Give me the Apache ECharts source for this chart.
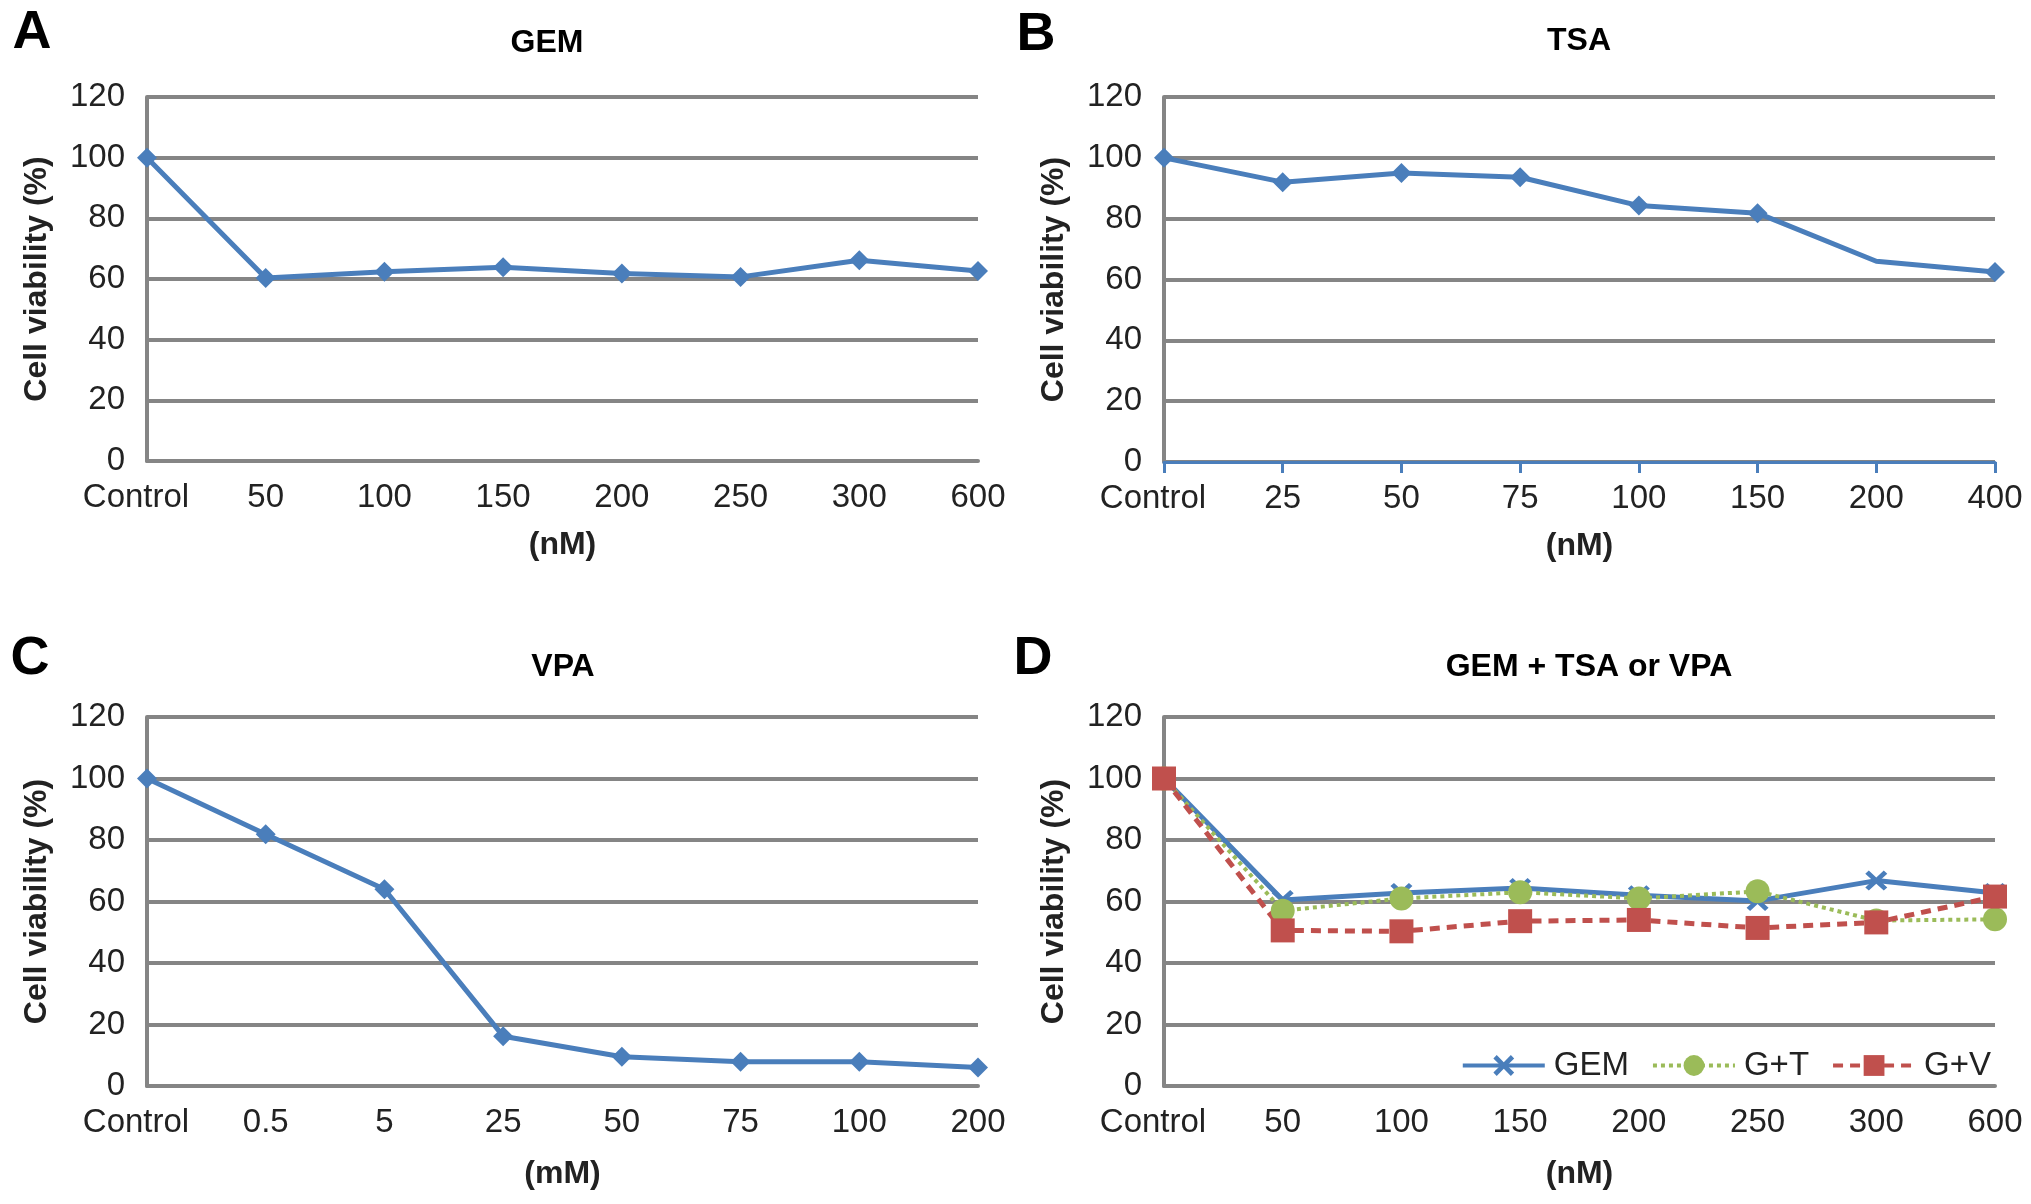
<!DOCTYPE html>
<html>
<head>
<meta charset="utf-8">
<script src="https://cdn.jsdelivr.net/npm/echarts@6/dist/echarts.min.js"></script>
<style>
  html, body { margin: 0; padding: 0; background: #fff; }
  #chart { width: 2031px; height: 1204px; }
</style>
</head>
<body>
<div id="chart"></div>
<script>
// ---- data ----
const catsA = ['Control', '50', '100', '150', '200', '250', '300', '600'];
const gemA = [100, 60.3, 62.4, 63.9, 61.8, 60.7, 66.2, 62.6];

const catsB = ['Control', '25', '50', '75', '100', '150', '200', '400'];
const tsaB = [100, 92, 95, 93.6, 84.3, 81.8, 66, 62.5];

const catsC = ['Control', '0.5', '5', '25', '50', '75', '100', '200'];
const vpaC = [100, 81.9, 64, 16.2, 9.5, 7.9, 7.9, 6];

const catsD = ['Control', '50', '100', '150', '200', '250', '300', '600'];
const gemD = [100, 60.5, 62.8, 64.4, 62, 60.2, 66.8, 62.8];
const gtD = [100, 57, 61, 63, 61, 63.3, 53.8, 54.2];
const gvD = [100, 50.6, 50.3, 53.6, 54, 51.4, 53.2, 61.6];

const yTicks = { min: 0, max: 120, interval: 20 };

// ---- styles ----
const FONT = '"Liberation Sans", Arial, Helvetica, sans-serif';
const GRID_GREY = '#858585';
const BLUE = '#4a7ebb';
const GREEN = '#9bbb59';
const RED = '#c0504d';
const TXT = '#222222';

const grids = [
  { left: 147, top: 97, width: 831, height: 364 },
  { left: 1164, top: 97, width: 831, height: 365 },
  { left: 147, top: 717, width: 831, height: 369 },
  { left: 1164, top: 717, width: 831, height: 369 }
];

function xAxisFor(idx, cats, name, gap, blueAxis) {
  return {
    type: 'category', gridIndex: idx, data: cats, boundaryGap: false,
    name: name, nameLocation: 'middle', nameGap: gap,
    nameTextStyle: { fontFamily: FONT, fontSize: 32, fontWeight: 'bold', color: TXT },
    axisLine: { show: true, lineStyle: { color: blueAxis ? BLUE : GRID_GREY, width: blueAxis ? 3 : 4 } },
    axisTick: { show: !!blueAxis, length: 11, lineStyle: { color: BLUE, width: 3 } },
    axisLabel: {
      interval: 0, margin: 20, fontFamily: FONT, fontSize: 33, color: TXT,
      formatter: (v, i) => (i === 0 ? '{c|' + v + '}' : v),
      rich: { c: { fontFamily: FONT, fontSize: 33, color: TXT, padding: [0, 22, 0, 0] } }
    },
    splitLine: { show: false }
  };
}
function yAxisFor(idx) {
  return {
    type: 'value', gridIndex: idx, min: yTicks.min, max: yTicks.max, interval: yTicks.interval,
    name: 'Cell viability (%)', nameLocation: 'middle', nameGap: 94, nameRotate: 90,
    nameTextStyle: { fontFamily: FONT, fontSize: 32, fontWeight: 'bold', color: TXT },
    axisLine: { show: true, lineStyle: { color: GRID_GREY, width: 4 } },
    axisTick: { show: false },
    axisLabel: { margin: 22, fontFamily: FONT, fontSize: 33, color: TXT },
    splitLine: { show: true, lineStyle: { color: GRID_GREY, width: 4 } }
  };
}

function txt(x, y, text, size) {
  return {
    type: 'text', x: x, y: y, silent: true,
    style: {
      text: text, fill: '#000', font: 'bold ' + size + 'px ' + FONT,
      textAlign: 'center', textVerticalAlign: 'middle', align: 'center', verticalAlign: 'middle'
    }
  };
}

const xPath = 'path://M0,1.6 L1.6,0 L5,3.4 L8.4,0 L10,1.6 L6.6,5 L10,8.4 L8.4,10 L5,6.6 L1.6,10 L0,8.4 L3.4,5 Z';

const option = {
  backgroundColor: '#ffffff',
  animation: false,
  grid: grids,
  xAxis: [
    xAxisFor(0, catsA, '(nM)', 68, false),
    xAxisFor(1, catsB, '(nM)', 68, true),
    xAxisFor(2, catsC, '(mM)', 72, false),
    xAxisFor(3, catsD, '(nM)', 72, false)
  ],
  yAxis: [yAxisFor(0), yAxisFor(1), yAxisFor(2), yAxisFor(3)],
  legend: {
    data: ['GEM', 'G+T', 'G+V'],
    right: 35, top: 1044,
    itemWidth: 82, itemHeight: 26, itemGap: 22,
    lineStyle: { width: 4 },
    textStyle: { fontFamily: FONT, fontSize: 33, color: TXT, padding: [0, 0, 0, 4] }
  },
  graphic: [
    txt(32, 33, 'A', 54),
    txt(1036, 35, 'B', 54),
    txt(30, 659, 'C', 54),
    txt(1033, 659, 'D', 54),
    txt(547, 43, 'GEM', 32),
    txt(1579, 41, 'TSA', 32),
    txt(563, 667, 'VPA', 32),
    txt(1589, 667, 'GEM + TSA or VPA', 32)
  ],
  series: [
    {
      name: 'GEM-A', type: 'line', xAxisIndex: 0, yAxisIndex: 0, data: gemA,
      symbol: 'diamond', symbolSize: [20, 20],
      lineStyle: { color: BLUE, width: 5 }, itemStyle: { color: BLUE }
    },
    {
      name: 'TSA-B', type: 'line', xAxisIndex: 1, yAxisIndex: 1,
      data: tsaB.map((v, i) => (catsB[i] === '200' ? { value: v, symbol: 'none' } : v)),
      symbol: 'diamond', symbolSize: [20, 20],
      lineStyle: { color: BLUE, width: 5 }, itemStyle: { color: BLUE }
    },
    {
      name: 'VPA-C', type: 'line', xAxisIndex: 2, yAxisIndex: 2, data: vpaC,
      symbol: 'diamond', symbolSize: [20, 20],
      lineStyle: { color: BLUE, width: 5 }, itemStyle: { color: BLUE }
    },
    {
      name: 'GEM', type: 'line', xAxisIndex: 3, yAxisIndex: 3, data: gemD,
      symbol: xPath, symbolSize: [22, 20],
      lineStyle: { color: BLUE, width: 5 }, itemStyle: { color: BLUE }
    },
    {
      name: 'G+T', type: 'line', xAxisIndex: 3, yAxisIndex: 3, data: gtD,
      symbol: 'circle', symbolSize: 24,
      lineStyle: { color: GREEN, width: 4, type: [4, 4] }, itemStyle: { color: GREEN, borderWidth: 0 }
    },
    {
      name: 'G+V', type: 'line', xAxisIndex: 3, yAxisIndex: 3, data: gvD,
      symbol: 'rect', symbolSize: 24,
      lineStyle: { color: RED, width: 5, type: [10, 7] }, itemStyle: { color: RED, borderWidth: 0 }
    }
  ]
};

const chart = echarts.init(document.getElementById('chart'), null, { renderer: 'canvas' });
chart.setOption(option);
</script>
</body>
</html>
